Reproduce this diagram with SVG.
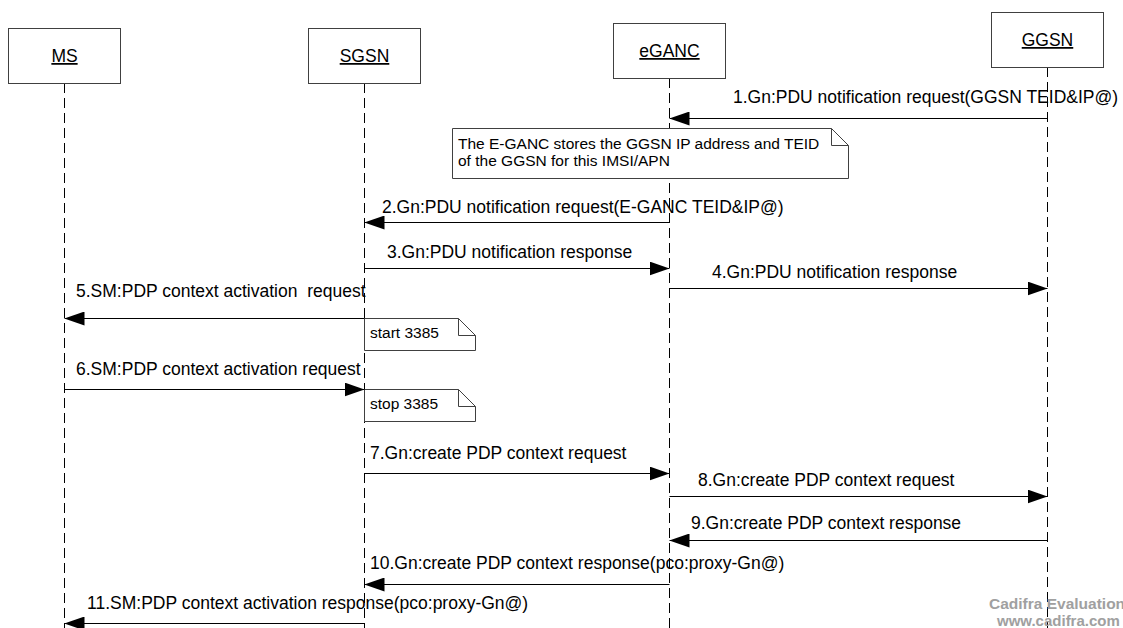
<svg xmlns="http://www.w3.org/2000/svg" width="1123" height="628" viewBox="0 0 1123 628">
<style>
.box{fill:#fff;stroke:#404040;stroke-width:1}
.life{stroke:#000;stroke-width:1;stroke-dasharray:10,5;fill:none}
.lbl{font-family:"Liberation Sans",Arial,sans-serif;font-size:17.5px;fill:#000}
.nlbl{font-family:"Liberation Sans",Arial,sans-serif;font-size:17.5px;fill:#000;text-anchor:middle;text-decoration:underline}
.msg{stroke:#000;stroke-width:1;fill:none;marker-end:url(#ah)}
.note{fill:#fff;stroke:#404040;stroke-width:1}
.ntxt{font-family:"Liberation Sans",Arial,sans-serif;font-size:15.5px;fill:#000}
.wm{font-family:"Liberation Sans",Arial,sans-serif;font-weight:bold;fill:#a0a0a0}
</style>
<defs>
<marker id="ah" viewBox="0 0 20 14" refX="20" refY="7" markerWidth="20" markerHeight="14" markerUnits="userSpaceOnUse" orient="auto">
<path d="M0,0 L20,7 L0,14 Z" fill="#000"/>
</marker>
</defs>
<rect width="1123" height="628" fill="#fff"/>

<g id="lifelines">
<line class="life" x1="64.5" y1="83" x2="64.5" y2="628"/>
<line class="life" x1="364.5" y1="83" x2="364.5" y2="628"/>
<line class="life" x1="669.5" y1="78" x2="669.5" y2="628"/>
<line class="life" x1="1047.5" y1="67" x2="1047.5" y2="628"/>
</g>

<g id="MS">
<rect class="box" x="8.5" y="28.5" width="112" height="55"/>
<text class="nlbl" x="64.5" y="62">MS</text>
</g>
<g id="SGSN">
<rect class="box" x="308.5" y="28.5" width="112" height="55"/>
<text class="nlbl" x="364.5" y="62">SGSN</text>
</g>
<g id="eGANC">
<rect class="box" x="613.5" y="23.5" width="112" height="55"/>
<text class="nlbl" x="669.5" y="57">eGANC</text>
</g>
<g id="GGSN">
<rect class="box" x="991.5" y="12.5" width="112" height="55"/>
<text class="nlbl" x="1047.5" y="46">GGSN</text>
</g>

<g id="note1">
<path class="note" d="M452.5,128.5 H831.5 L848.5,145.5 V178.5 H452.5 Z M831.5,128.5 V145.5 H848.5"/>
<text class="ntxt" x="458" y="149">The E-GANC stores the GGSN IP address and TEID</text>
<text class="ntxt" x="458" y="166">of the GGSN for this IMSI/APN</text>
</g>
<g id="note-start">
<path class="note" d="M364.5,318.5 H458.5 L475.5,335.5 V350.5 H364.5 Z M458.5,318.5 V335.5 H475.5"/>
<text class="ntxt" x="370" y="338">start 3385</text>
</g>
<g id="note-stop">
<path class="note" d="M364.5,389.5 H458.5 L475.5,406.5 V421.5 H364.5 Z M458.5,389.5 V406.5 H475.5"/>
<text class="ntxt" x="370" y="409">stop 3385</text>
</g>

<g id="connectors">
<line class="msg" x1="1047.5" y1="118.5" x2="669.5" y2="118.5"/>
<text class="lbl" x="733" y="103">1.Gn:PDU notification request(GGSN TEID&amp;IP@)</text>
<line class="msg" x1="669.5" y1="222.5" x2="364.5" y2="222.5"/>
<text class="lbl" x="382" y="213">2.Gn:PDU notification request(E-GANC TEID&amp;IP@)</text>
<line class="msg" x1="364.5" y1="268.5" x2="669.5" y2="268.5"/>
<text class="lbl" x="387" y="258">3.Gn:PDU notification response</text>
<line class="msg" x1="669.5" y1="288.5" x2="1047.5" y2="288.5"/>
<text class="lbl" x="712" y="278">4.Gn:PDU notification response</text>
<line class="msg" x1="364.5" y1="318.5" x2="64.5" y2="318.5"/>
<text class="lbl" x="76" y="297" xml:space="preserve">5.SM:PDP context activation  request</text>
<line class="msg" x1="64.5" y1="389.5" x2="364.5" y2="389.5"/>
<text class="lbl" x="76" y="375">6.SM:PDP context activation request</text>
<line class="msg" x1="364.5" y1="473.5" x2="669.5" y2="473.5"/>
<text class="lbl" x="370" y="459">7.Gn:create PDP context request</text>
<line class="msg" x1="669.5" y1="496.5" x2="1047.5" y2="496.5"/>
<text class="lbl" x="698" y="486">8.Gn:create PDP context request</text>
<line class="msg" x1="1047.5" y1="540.5" x2="669.5" y2="540.5"/>
<text class="lbl" x="691" y="529">9.Gn:create PDP context response</text>
<line class="msg" x1="669.5" y1="584.5" x2="364.5" y2="584.5"/>
<text class="lbl" x="370" y="569">10.Gn:create PDP context response(pco:proxy-Gn@)</text>
<line class="msg" x1="364.5" y1="623.5" x2="64.5" y2="623.5"/>
<text class="lbl" x="87" y="609">11.SM:PDP context activation response(pco:proxy-Gn@)</text>
</g>

<text class="wm" x="989" y="609" font-size="15.5">Cadifra Evaluation</text>
<text class="wm" x="997" y="626" font-size="15">www.cadifra.com</text>
</svg>
